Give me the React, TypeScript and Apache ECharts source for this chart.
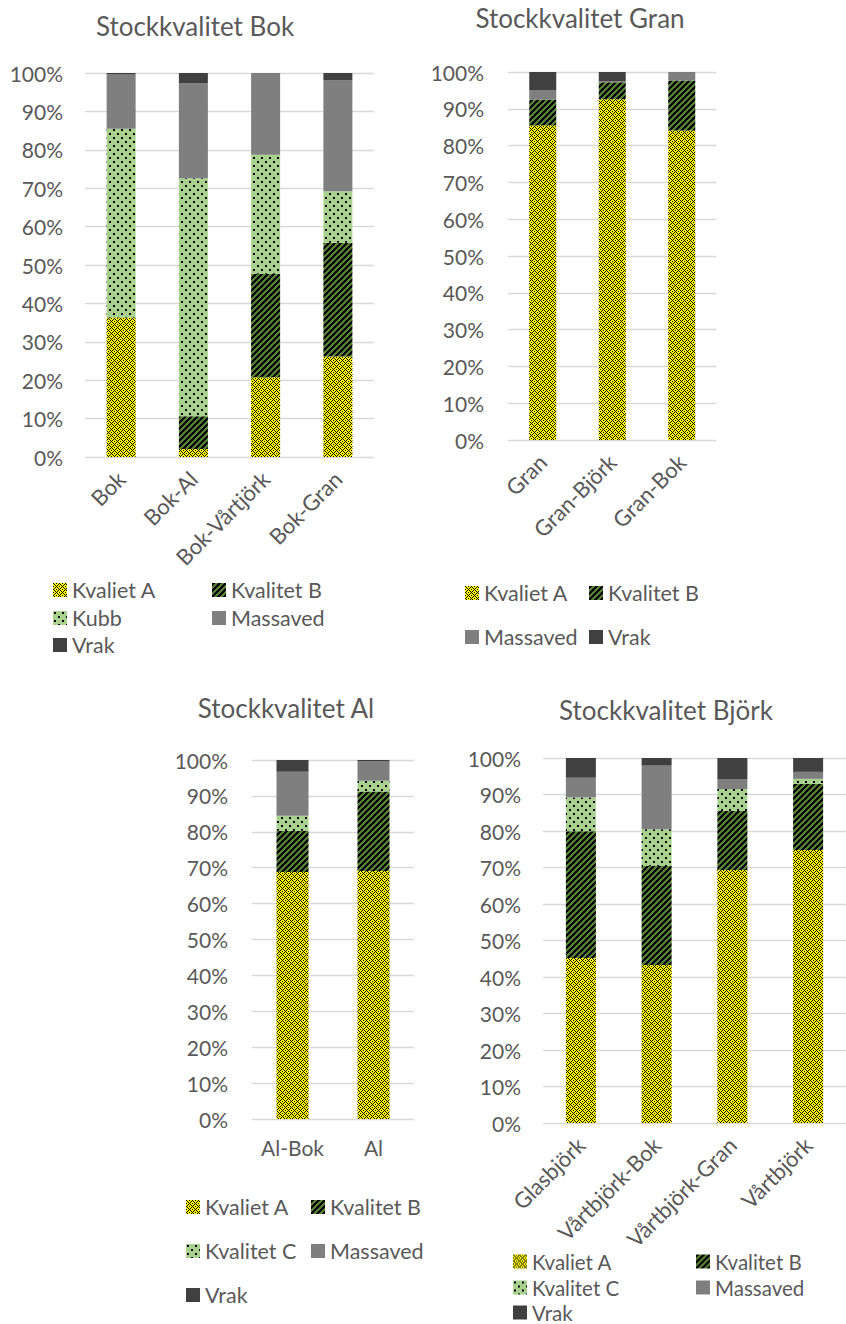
import React, { useEffect, useRef } from "react";
import * as echarts from "echarts";

// ---- Data (percent of volume) ----
const bokCategories = ["Bok", "Bok-Al", "Bok-Vårtjörk", "Bok-Gran"];
const bokA = [36.3, 2.1, 20.8, 26.2];
const bokB = [0, 8.5, 26.9, 29.6];
const bokKubb = [49.2, 62.0, 31.0, 13.4];
const bokMassaved = [14.1, 24.8, 21.3, 28.9];
const bokVrak = [0.4, 2.6, 0, 1.9];

const granCategories = ["Gran", "Gran-Björk", "Gran-Bok"];
const granA = [85.5, 92.6, 84.1];
const granB = [7.0, 4.6, 13.6];
const granMassaved = [2.6, 0.3, 2.3];
const granVrak = [4.9, 2.5, 0];

const alCategories = ["Al-Bok", "Al"];
const alA = [68.8, 69.1];
const alB = [11.5, 22.1];
const alC = [4.2, 3.0];
const alMassaved = [12.2, 5.5];
const alVrak = [3.3, 0.3];

const bjorkCategories = ["Glasbjörk", "Vårtbjörk-Bok", "Vårtbjörk-Gran", "Vårtbjörk"];
const bjorkA = [45.2, 43.3, 69.3, 74.8];
const bjorkB = [34.7, 27.1, 16.2, 18.1];
const bjorkC = [9.3, 10.1, 6.0, 1.4];
const bjorkMassaved = [5.4, 17.4, 2.6, 1.9];
const bjorkVrak = [5.4, 2.1, 5.9, 3.8];

const yTicks = [0, 10, 20, 30, 40, 50, 60, 70, 80, 90, 100];

const TEXT = "#595959";
const GRID = "#D9D9D9";
const FONT = "Lato";

function makePattern(size: number, bg: string, fn: (x: number, y: number) => boolean) {
  const c = document.createElement("canvas");
  c.width = size;
  c.height = size;
  const ctx = c.getContext("2d")!;
  ctx.fillStyle = bg;
  ctx.fillRect(0, 0, size, size);
  ctx.fillStyle = "#000000";
  for (let y = 0; y < size; y++) {
    for (let x = 0; x < size; x++) {
      if (fn(x, y)) ctx.fillRect(x, y, 1, 1);
    }
  }
  return { image: c, repeat: "repeat", imageWidth: size, imageHeight: size } as any;
}

export default function App() {
  const ref = useRef<HTMLDivElement>(null);

  useEffect(() => {
    if (!ref.current) return;
    const chart = echarts.init(ref.current, undefined, { renderer: "svg" });

    const patA = makePattern(6, "#FFFF00", (x, y) =>
      (x + y) % 6 === 0 || (x - y + 6) % 6 === 0 || (x === 3 && y === 0) || (x === 0 && y === 3)
    );
    const patB = makePattern(6, "#548235", (x, y) => (x + y) % 6 < 3);
    const patC = makePattern(8, "#A9D18E", (x, y) =>
      ((x === 1 || x === 2) && (y === 1 || y === 2)) || ((x === 5 || x === 6) && (y === 5 || y === 6))
    );
    const colMass = "#7F7F7F";
    const colVrak = "#404040";

    const grids = [
      { left: 85, top: 73, width: 289, height: 384 },
      { left: 508, top: 72, width: 208.5, height: 368 },
      { left: 252, top: 760, width: 162, height: 359 },
      { left: 543, top: 758, width: 309, height: 365 },
    ];
    const cats = [bokCategories, granCategories, alCategories, bjorkCategories];
    const rotations = [45, 45, 0, 45];
    const xMargins = [18, 18, 18, 18];
    const yMargins = [22, 24, 24, 22];

    const xAxis = cats.map((c, i) => ({
      type: "category",
      gridIndex: i,
      data: c,
      axisLine: { show: false },
      axisTick: { show: false },
      axisLabel: {
        rotate: rotations[i],
        margin: xMargins[i],
        fontSize: rotations[i] ? 22 : 21,
        color: TEXT,
        fontFamily: FONT,
        interval: 0,
      },
    }));
    const yAxis = cats.map((_, i) => ({
      type: "value",
      gridIndex: i,
      min: yTicks[0],
      max: yTicks[yTicks.length - 1],
      interval: yTicks[1] - yTicks[0],
      axisLine: { show: false },
      axisTick: { show: false },
      splitLine: { lineStyle: { color: GRID, width: 1.3 } },
      axisLabel: {
        formatter: "{value}%",
        margin: yMargins[i],
        fontSize: 21,
        color: TEXT,
        fontFamily: FONT,
      },
    }));

    const barWidths = [29, 27, 32, 30];
    const bar = (name: string, data: number[], idx: number, color: any) => ({
      type: "bar",
      name,
      data,
      xAxisIndex: idx,
      yAxisIndex: idx,
      stack: "s" + idx,
      barWidth: barWidths[idx],
      itemStyle: { color },
      emphasis: { disabled: true },
    });

    const series = [
      bar("Kvaliet A", bokA, 0, patA),
      bar("Kvalitet B", bokB, 0, patB),
      bar("Kubb", bokKubb, 0, patC),
      bar("Massaved", bokMassaved, 0, colMass),
      bar("Vrak", bokVrak, 0, colVrak),

      bar("Kvaliet A", granA, 1, patA),
      bar("Kvalitet B", granB, 1, patB),
      bar("Massaved", granMassaved, 1, colMass),
      bar("Vrak", granVrak, 1, colVrak),

      bar("Kvaliet A", alA, 2, patA),
      bar("Kvalitet B", alB, 2, patB),
      bar("Kvalitet C", alC, 2, patC),
      bar("Massaved", alMassaved, 2, colMass),
      bar("Vrak", alVrak, 2, colVrak),

      bar("Kvaliet A", bjorkA, 3, patA),
      bar("Kvalitet B", bjorkB, 3, patB),
      bar("Kvalitet C", bjorkC, 3, patC),
      bar("Massaved", bjorkMassaved, 3, colMass),
      bar("Vrak", bjorkVrak, 3, colVrak),
    ];

    const leg = (name: string, left: number, centerY: number, fs = 21.5) => ({
      data: [name],
      left,
      top: centerY - 10,
      padding: 0,
      itemWidth: 14,
      itemHeight: 14,
      itemGap: 6,
      icon: "rect",
      selectedMode: false,
      textStyle: { fontSize: fs, lineHeight: 20, color: TEXT, fontFamily: FONT },
    });

    const legends = [
      leg("Kvaliet A", 53, 589),
      leg("Kvalitet B", 212, 589),
      leg("Kubb", 53, 617),
      leg("Massaved", 212, 617),
      leg("Vrak", 53, 644),

      leg("Kvaliet A", 465, 592),
      leg("Kvalitet B", 589, 592),
      leg("Massaved", 465, 636),
      leg("Vrak", 589, 636),

      leg("Kvaliet A", 186, 1206),
      leg("Kvalitet B", 311, 1206),
      leg("Kvalitet C", 186, 1250),
      leg("Massaved", 311, 1250),
      leg("Vrak", 186, 1294),

      leg("Kvaliet A", 513, 1261, 20.5),
      leg("Kvalitet B", 696, 1261, 20.5),
      leg("Kvalitet C", 513, 1287, 20.5),
      leg("Massaved", 696, 1287, 20.5),
      leg("Vrak", 513, 1312, 20.5),
    ];

    const title = (text: string, cx: number, top: number) => ({
      text,
      left: cx,
      top,
      textAlign: "center",
      padding: 0,
      textStyle: { fontSize: 26, fontWeight: "normal", color: TEXT, fontFamily: FONT },
    });

    chart.setOption({
      animation: false,
      backgroundColor: "#FFFFFF",
      title: [
        title("Stockkvalitet Bok", 195, 13),
        title("Stockkvalitet Gran", 580, 5),
        title("Stockkvalitet Al", 286, 695),
        title("Stockkvalitet Björk", 666, 697),
      ],
      legend: legends,
      grid: grids,
      xAxis,
      yAxis,
      series,
    } as any);

    return () => chart.dispose();
  }, []);

  return (
    <div
      ref={ref}
      style={{ position: "absolute", left: 0, top: 0, width: 846, height: 1324, background: "#fff" }}
    />
  );
}
